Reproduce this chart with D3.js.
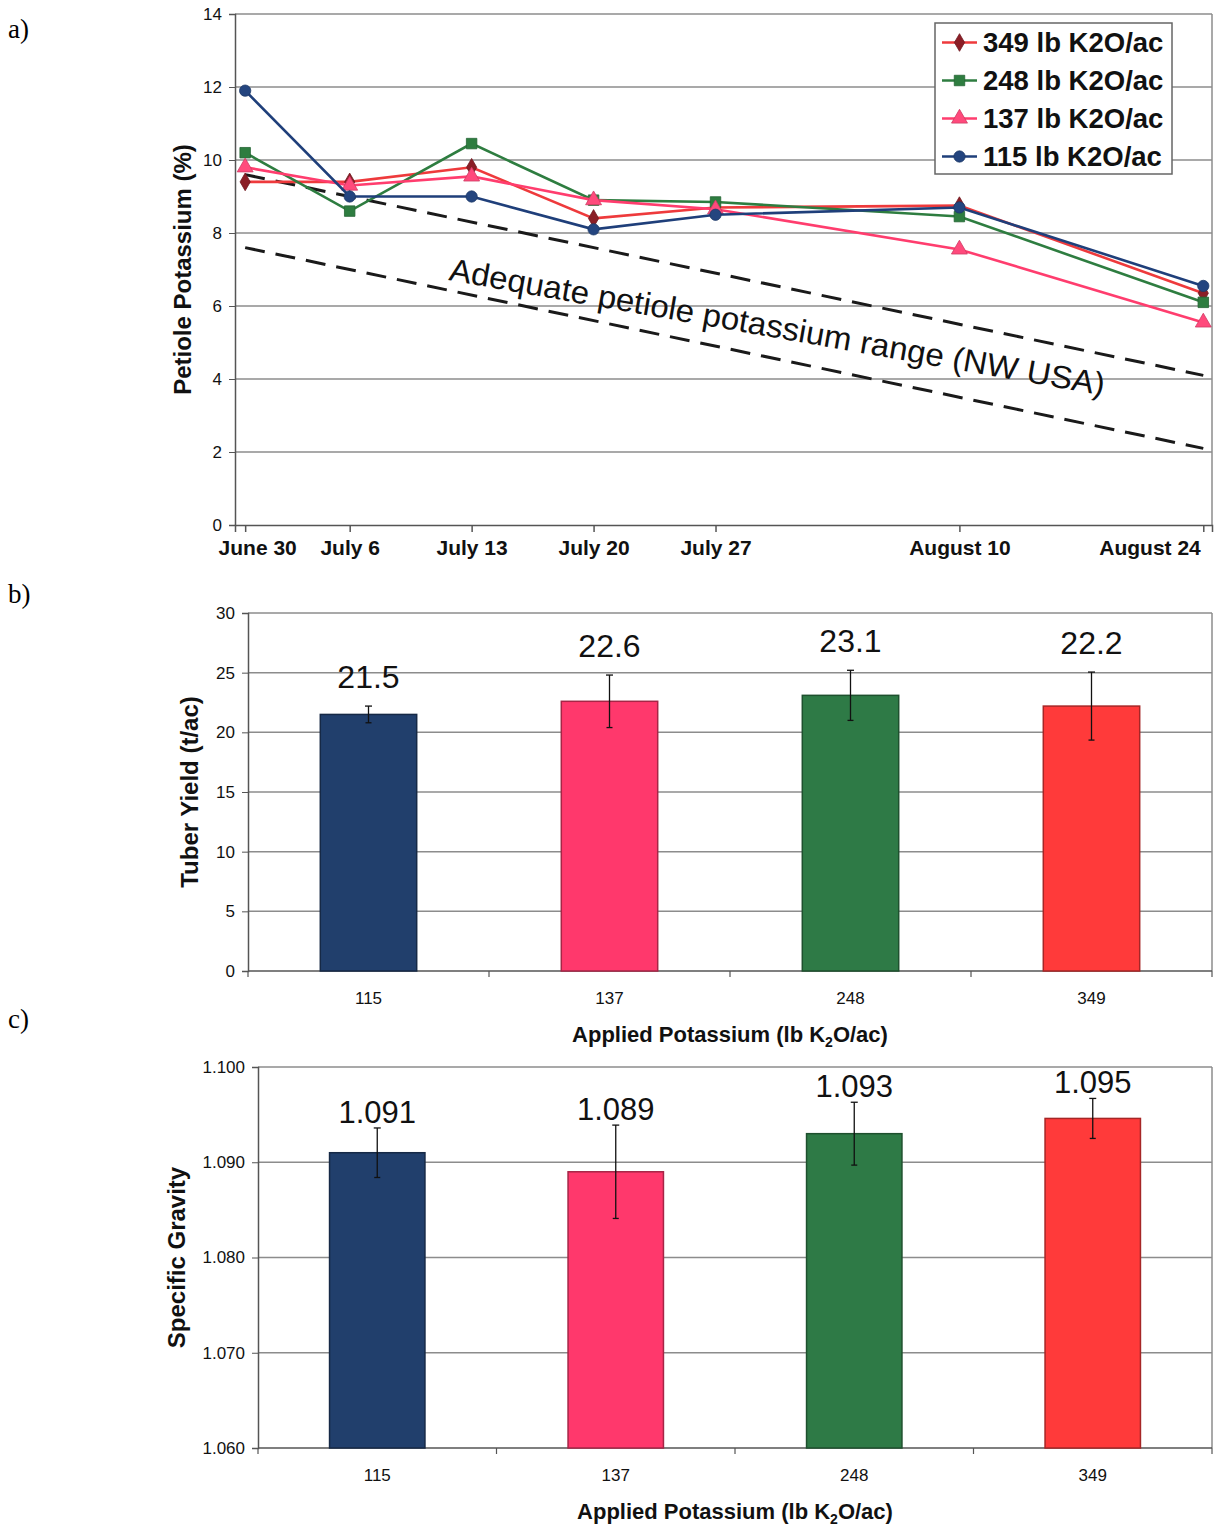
<!DOCTYPE html>
<html>
<head>
<meta charset="utf-8">
<script src="https://cdn.jsdelivr.net/npm/d3@7"></script>
<style>
body { margin: 0; background: #fff; }
svg { display: block; font-family: "Liberation Sans", Arial, sans-serif; }
</style>
</head>
<body>
<svg id="fig" width="1217" height="1529"></svg>
<script>
// ---- data ----
const sampleDates = ["2007-06-30", "2007-07-06", "2007-07-13", "2007-07-20", "2007-07-27", "2007-08-10", "2007-08-24"];
const dateLabels = ["June 30", "July 6", "July 13", "July 20", "July 27", "August 10", "August 24"];
const seriesNames = ["349 lb K2O/ac", "248 lb K2O/ac", "137 lb K2O/ac", "115 lb K2O/ac"];
const k349 = [9.4, 9.4, 9.8, 8.4, 8.7, 8.75, 6.35];
const k248 = [10.2, 8.6, 10.45, 8.9, 8.85, 8.45, 6.1];
const k137 = [9.8, 9.3, 9.55, 8.9, 8.65, 7.55, 5.55];
const k115 = [11.9, 9.0, 9.0, 8.1, 8.5, 8.7, 6.55];
const rangeUpper = [9.6, 4.1];   // at first and last sample date
const rangeLower = [7.6, 2.1];
const petioleTicks = [0, 2, 4, 6, 8, 10, 12, 14];

const rates = ["115", "137", "248", "349"];
const yieldVals = [21.5, 22.6, 23.1, 22.2];
const yieldErr = [0.7, 2.2, 2.1, 2.85];
const yieldTicks = [0, 5, 10, 15, 20, 25, 30];
const sgVals = [1.091, 1.089, 1.093, 1.0946];
const sgErr = [0.0026, 0.0049, 0.0033, 0.0021];
const sgTicks = [1.06, 1.07, 1.08, 1.09, 1.10];

// ---- styles ----
const lineColors = ["#ee3a3c", "#2e7d40", "#ff3d6e", "#1f3f7a"];
const markColors = ["#8b1e26", "#2e7d40", "#ff4a7c", "#24457f"];
const markTypes = [d3.symbolDiamond, d3.symbolSquare, d3.symbolTriangle, d3.symbolCircle];
const markSizes = [90, 110, 110, 100];
const barColors = ["#213f6c", "#ff386c", "#2e7a46", "#ff3a3a"];
const gridColor = "#8c8c8c";

const svg = d3.select("#fig");
const parse = d3.timeParse("%Y-%m-%d");
const dates = sampleDates.map(parse);

// panel letters
[["a)", 38], ["b)", 603], ["c)", 1028]].forEach(([t, y]) => {
    svg.append("text").attr("x", 8).attr("y", y).attr("font-family", "Liberation Serif, serif")
        .attr("font-size", 27).text(t);
});

// ---------- panel a ----------
{
    const L = 235, R = 1212, T = 14, B = 525;
    const x = d3.scaleTime()
        .domain([d3.timeHour.offset(dates[0], -14), d3.timeHour.offset(dates[dates.length - 1], 12)])
        .range([L, R]);
    const y = d3.scaleLinear().domain([0, 14]).range([B, T]);
    const g = svg.append("g");

    // grid
    g.append("g").selectAll("line").data(petioleTicks.filter(d => d > 0)).join("line")
        .attr("x1", L).attr("x2", R).attr("y1", d => y(d)).attr("y2", d => y(d))
        .attr("stroke", gridColor).attr("stroke-width", 1.5);
    g.append("line").attr("x1", R).attr("x2", R).attr("y1", T).attr("y2", B)
        .attr("stroke", gridColor).attr("stroke-width", 1.5);

    const ya = g.append("g").attr("transform", `translate(${L},0)`)
        .call(d3.axisLeft(y).tickValues(petioleTicks).tickSize(6).tickPadding(7));
    ya.select(".domain").attr("stroke", "#555").attr("stroke-width", 1.5);
    ya.selectAll(".tick line").attr("stroke", "#555");
    ya.selectAll("text").attr("font-size", 17).attr("fill", "#111");

    const xa = g.append("g").attr("transform", `translate(0,${B})`)
        .call(d3.axisBottom(x).tickValues(dates).tickFormat((d, i) => dateLabels[i]).tickSize(7).tickPadding(8));
    xa.select(".domain").attr("stroke", "#555").attr("stroke-width", 1.5);
    xa.selectAll(".tick line").attr("stroke", "#555").attr("stroke-width", 1.5);
    xa.selectAll("text").attr("font-size", 21).attr("font-weight", "bold").attr("fill", "#111");
    xa.selectAll(".tick").filter((d, i) => i === dates.length - 1).select("text")
        .attr("text-anchor", "end").attr("x", -3);
    xa.selectAll(".tick").filter((d, i) => i === 0).select("text").attr("x", 12);

    // dashed range lines
    const ends = [dates[0], dates[dates.length - 1]];
    [rangeUpper, rangeLower].forEach(r => {
        g.append("line")
            .attr("x1", x(ends[0])).attr("y1", y(r[0]))
            .attr("x2", x(ends[1])).attr("y2", y(r[1]))
            .attr("stroke", "#1a1a1a").attr("stroke-width", 3).attr("stroke-dasharray", "20,11");
    });
    g.append("text").attr("transform", "translate(448,280) rotate(10)")
        .attr("font-size", 32).attr("textLength", 665).attr("lengthAdjust", "spacingAndGlyphs")
        .attr("fill", "#111").text("Adequate petiole potassium range (NW USA)");

    // series
    const series = [k349, k248, k137, k115];
    const line = d3.line().x((d, i) => x(dates[i])).y(d => y(d));
    series.forEach((s, k) => {
        g.append("path").datum(s).attr("d", line).attr("fill", "none")
            .attr("stroke", lineColors[k]).attr("stroke-width", 2.6);
        g.append("g").selectAll("path").data(s).join("path")
            .attr("transform", (d, i) => `translate(${x(dates[i])},${y(d)})`)
            .attr("d", d3.symbol().type(markTypes[k]).size(markSizes[k]))
            .attr("fill", markColors[k]).attr("stroke", d3.color(markColors[k]).darker(0.6)).attr("stroke-width", 0.8);
    });

    // legend
    const lg = g.append("g");
    lg.append("rect").attr("x", 935).attr("y", 23).attr("width", 237).attr("height", 151)
        .attr("fill", "#fff").attr("stroke", "#666").attr("stroke-width", 1.5);
    seriesNames.forEach((n, k) => {
        const cy = 42.5 + k * 38;
        lg.append("line").attr("x1", 942).attr("x2", 977).attr("y1", cy).attr("y2", cy)
            .attr("stroke", lineColors[k]).attr("stroke-width", 2.6);
        lg.append("path").attr("transform", `translate(959.5,${cy})`)
            .attr("d", d3.symbol().type(markTypes[k]).size(markSizes[k]))
            .attr("fill", markColors[k]).attr("stroke", d3.color(markColors[k]).darker(0.6)).attr("stroke-width", 0.8);
        lg.append("text").attr("x", 983).attr("y", cy + 9.5).attr("font-size", 27.5)
            .attr("font-weight", "bold").attr("fill", "#111").text(n);
    });

    g.append("text").attr("transform", `translate(191,${(T + B) / 2}) rotate(-90)`)
        .attr("text-anchor", "middle").attr("font-size", 24).attr("font-weight", "bold")
        .attr("fill", "#111").text("Petiole Potassium (%)");
}

// ---------- bar panels ----------
function barPanel(o) {
    const g = svg.append("g");
    const x = d3.scaleBand().domain(rates).range([o.L, o.R]).paddingInner(0.6).paddingOuter(0.3);
    const y = d3.scaleLinear().domain(o.domain).range([o.B, o.T]);

    g.append("g").selectAll("line").data(o.ticks.slice(1)).join("line")
        .attr("x1", o.L).attr("x2", o.R).attr("y1", d => y(d)).attr("y2", d => y(d))
        .attr("stroke", gridColor).attr("stroke-width", 1.5);
    g.append("line").attr("x1", o.R).attr("x2", o.R).attr("y1", o.T).attr("y2", o.B)
        .attr("stroke", gridColor).attr("stroke-width", 1.5);

    const ya = g.append("g").attr("transform", `translate(${o.L},0)`)
        .call(d3.axisLeft(y).tickValues(o.ticks).tickFormat(o.tickFmt).tickSize(6).tickPadding(7));
    ya.select(".domain").attr("stroke", "#555").attr("stroke-width", 1.5);
    ya.selectAll(".tick line").attr("stroke", "#555");
    ya.selectAll("text").attr("font-size", o.tickFont).attr("fill", "#111");

    // x axis with ticks at category boundaries
    g.append("line").attr("x1", o.L).attr("x2", o.R).attr("y1", o.B).attr("y2", o.B)
        .attr("stroke", "#555").attr("stroke-width", 1.5);
    g.append("g").selectAll("line").data(d3.range(rates.length + 1)).join("line")
        .attr("x1", i => o.L + i * x.step()).attr("x2", i => o.L + i * x.step())
        .attr("y1", o.B).attr("y2", o.B + 6).attr("stroke", "#555").attr("stroke-width", 1.2);
    g.append("g").selectAll("text").data(rates).join("text")
        .attr("x", d => x(d) + x.bandwidth() / 2).attr("y", o.B + 33)
        .attr("text-anchor", "middle").attr("font-size", 17).attr("fill", "#111").text(d => d);

    // bars
    g.append("g").selectAll("rect").data(o.vals).join("rect")
        .attr("x", (d, i) => x(rates[i])).attr("width", x.bandwidth())
        .attr("y", d => y(d)).attr("height", d => o.B - y(d))
        .attr("fill", (d, i) => barColors[i])
        .attr("stroke", (d, i) => d3.color(barColors[i]).darker(1.2)).attr("stroke-width", 1.5);

    // error bars
    const eb = g.append("g").attr("stroke", "#111").attr("stroke-width", 1.3);
    o.vals.forEach((v, i) => {
        const cx = x(rates[i]) + x.bandwidth() / 2;
        const hi = y(v + o.errs[i]), lo = y(v - o.errs[i]);
        eb.append("line").attr("x1", cx).attr("x2", cx).attr("y1", hi).attr("y2", lo);
        eb.append("line").attr("x1", cx - 3.5).attr("x2", cx + 3.5).attr("y1", hi).attr("y2", hi);
        eb.append("line").attr("x1", cx - 3).attr("x2", cx + 3).attr("y1", lo).attr("y2", lo);
    });

    // value labels
    g.append("g").selectAll("text").data(o.vals).join("text")
        .attr("x", (d, i) => x(rates[i]) + x.bandwidth() / 2)
        .attr("y", (d, i) => y(d + o.errs[i]) - o.gap)
        .attr("text-anchor", "middle").attr("font-size", o.valFont).attr("fill", "#111")
        .text(d => o.valFmt(d));

    // titles
    g.append("text").attr("transform", `translate(${o.yTitleX},${(o.T + o.B) / 2}) rotate(-90)`)
        .attr("text-anchor", "middle").attr("font-size", 24).attr("font-weight", "bold")
        .attr("fill", "#111").text(o.yTitle);
    const xt = g.append("text").attr("x", (o.L + o.R) / 2).attr("y", o.B + 71)
        .attr("text-anchor", "middle").attr("font-size", 22).attr("font-weight", "bold").attr("fill", "#111");
    xt.append("tspan").text("Applied Potassium (lb K");
    xt.append("tspan").attr("font-size", 14).attr("dy", 5).text("2");
    xt.append("tspan").attr("dy", -5).text("O/ac)");
}

barPanel({
    L: 248, R: 1212, T: 613, B: 971,
    domain: [0, 30], ticks: yieldTicks, tickFmt: d3.format("d"), tickFont: 17,
    vals: yieldVals, errs: yieldErr, valFmt: d3.format(".1f"), valFont: 32, gap: 18,
    yTitle: "Tuber Yield (t/ac)", yTitleX: 198
});

barPanel({
    L: 258, R: 1212, T: 1067, B: 1448,
    domain: [1.06, 1.10], ticks: sgTicks, tickFmt: d3.format(".3f"), tickFont: 17,
    vals: sgVals, errs: sgErr, valFmt: d3.format(".3f"), valFont: 31, gap: 5,
    yTitle: "Specific Gravity", yTitleX: 185
});
</script>
</body>
</html>
